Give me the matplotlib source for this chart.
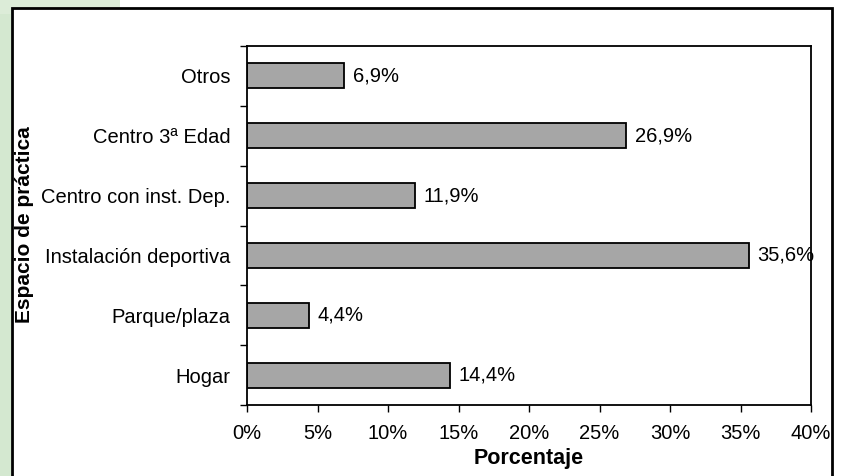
import matplotlib.pyplot as plt
from matplotlib.patches import Rectangle

categories = ['Hogar', 'Parque/plaza', 'Instalación deportiva',
              'Centro con inst. Dep.', 'Centro 3ª Edad', 'Otros']
values = [14.4, 4.4, 35.6, 11.9, 26.9, 6.9]
labels = ['14,4%', '4,4%', '35,6%', '11,9%', '26,9%', '6,9%']
xticks = [0, 5, 10, 15, 20, 25, 30, 35, 40]

plt.rcParams['font.family'] = ['Liberation Sans', 'DejaVu Sans']

fig = plt.figure(figsize=(8.46, 4.76), dpi=100)
W, H = 846, 476

# green decoration at the left and the top-left corner
fig.patches.append(Rectangle((0, 0), 11 / W, 1, transform=fig.transFigure,
                             facecolor='#d4e8d0', edgecolor='none', zorder=0))
fig.patches.append(Rectangle((0, 1 - 14 / H), 120 / W, 14 / H, transform=fig.transFigure,
                             facecolor='#dcecd8', edgecolor='none', zorder=0))
# black frame
fig.patches.append(Rectangle((12 / W, -0.02), 820 / W, 1.02 - 8 / H, transform=fig.transFigure,
                             facecolor='white', edgecolor='black', linewidth=2, zorder=1))

ax = fig.add_axes([247 / W, 1 - 405 / H, (811 - 247) / W, (405 - 46) / H])
ax.set_zorder(2)
y = range(len(categories))
ax.barh(y, values, height=0.42, color='#a6a6a6', edgecolor='black', linewidth=1.3)
for yi, v, lab in zip(y, values, labels):
    ax.text(v + 0.6, yi, lab, va='center', ha='left', fontsize=14.5)

ax.set_xlim(0, 40)
ax.set_ylim(-0.5, len(categories) - 0.5)
ax.set_xticks(xticks)
ax.set_xticklabels([f'{t}%' for t in xticks], fontsize=14.5)
ax.set_yticks(list(y))
ax.set_yticklabels(categories, fontsize=14.5)
ax.set_yticks([i - 0.5 for i in range(len(categories) + 1)], minor=True)
ax.tick_params(axis='y', which='major', length=0, pad=12)
ax.tick_params(axis='y', which='minor', length=5, width=1, direction='out')
ax.tick_params(axis='x', length=5, width=1, direction='out', pad=9)
for s in ax.spines.values():
    s.set_linewidth(1.3)

ax.set_xlabel('Porcentaje', fontsize=15.5, fontweight='bold', labelpad=3)
fig.text(24 / W, 1 - 225 / H, 'Espacio de práctica', rotation=90, fontsize=15,
         fontweight='bold', ha='center', va='center', zorder=3)

fig.savefig('out.png', dpi=100)
